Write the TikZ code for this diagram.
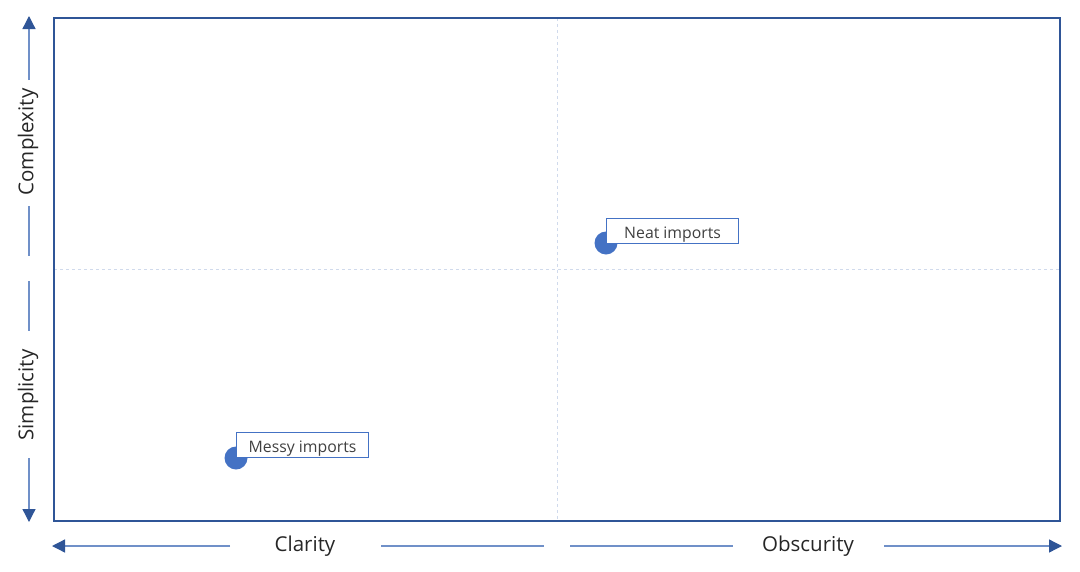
\documentclass[tikz,border=0pt]{standalone}
\usepackage{fontspec}
\setmainfont{Open Sans}
\usetikzlibrary{arrows.meta}
\definecolor{frameblue}{HTML}{2F5597}
\definecolor{axisline}{HTML}{7090C8}
\definecolor{dotblue}{HTML}{4472C4}
\definecolor{gridc}{HTML}{D0DAEC}
\definecolor{txt}{HTML}{404040}
\tikzset{
  axis/.style={line width=1.3pt, draw=axisline},
  tipend/.style={-{Triangle[length=13pt,width=13pt,color=frameblue]}},
  axislabel/.style={font=\fontsize{20.5}{24}\selectfont, text=black!85, inner sep=0pt},
  ptlabel/.style={draw=dotblue, line width=1.2pt, fill=white, text=txt,
    font=\fontsize{15.8}{18}\selectfont, minimum width=132pt, minimum height=25pt,
    text height=15.6pt, text depth=1pt,
    inner sep=0pt, anchor=south west},
  dot/.style={circle, fill=dotblue, minimum size=23pt, inner sep=0pt},
  grid/.style={draw=gridc, line width=0.8pt, dash pattern=on 3pt off 3pt}
}
\begin{document}
\begin{tikzpicture}[x=1pt,y=-1pt]
\useasboundingbox (0,0) rectangle (1080,571);
% frame corners
\coordinate (TL) at (54,18);
\coordinate (BR) at (1060,521);
\coordinate (MT) at (557,18);
\coordinate (MB) at (557,521);
\coordinate (ML) at (54,269);
\coordinate (MR) at (1060,269);
\draw[grid] (MT) -- (MB);
\draw[grid] (ML) -- (MR);
\draw[frameblue, line width=1.8pt] (TL) rectangle (BR);
% vertical axis
\node[axislabel, rotate=90] (cx) at (28,142) {Complexity};
\node[axislabel, rotate=90] (sx) at (28,395) {Simplicity};
\coordinate (vtop) at (29,16);
\coordinate (vbot) at (29,522);
\coordinate (va) at (29,80);
\coordinate (vb) at (29,206);
\coordinate (vm1) at (29,256);
\coordinate (vm2) at (29,281);
\coordinate (vc) at (29,331);
\coordinate (vd) at (29,458);
\draw[axis, tipend] (va) -- (vtop);
\draw[axis] (vb) -- (vm1);
\draw[axis] (vm2) -- (vc);
\draw[axis, tipend] (vd) -- (vbot);
% horizontal axis
\node[axislabel] (cl) at (305,546) {Clarity};
\node[axislabel] (ob) at (808,546) {Obscurity};
\coordinate (hl) at (52,546);
\coordinate (hr) at (1062,546);
\coordinate (ha) at (230,546);
\coordinate (hb) at (381,546);
\coordinate (hm1) at (544,546);
\coordinate (hm2) at (570,546);
\coordinate (hc) at (733,546);
\coordinate (hd) at (884,546);
\draw[axis, tipend] (ha) -- (hl);
\draw[axis] (hb) -- (hm1);
\draw[axis] (hm2) -- (hc);
\draw[axis, tipend] (hd) -- (hr);
% points
\node[dot] (neatdot) at (606,243) {};
\node[ptlabel] (neat) at (606,244) {Neat imports};
\node[dot] (messydot) at (236,458) {};
\node[ptlabel] (messy) at (236,458) {Messy imports};
\end{tikzpicture}
\end{document}
